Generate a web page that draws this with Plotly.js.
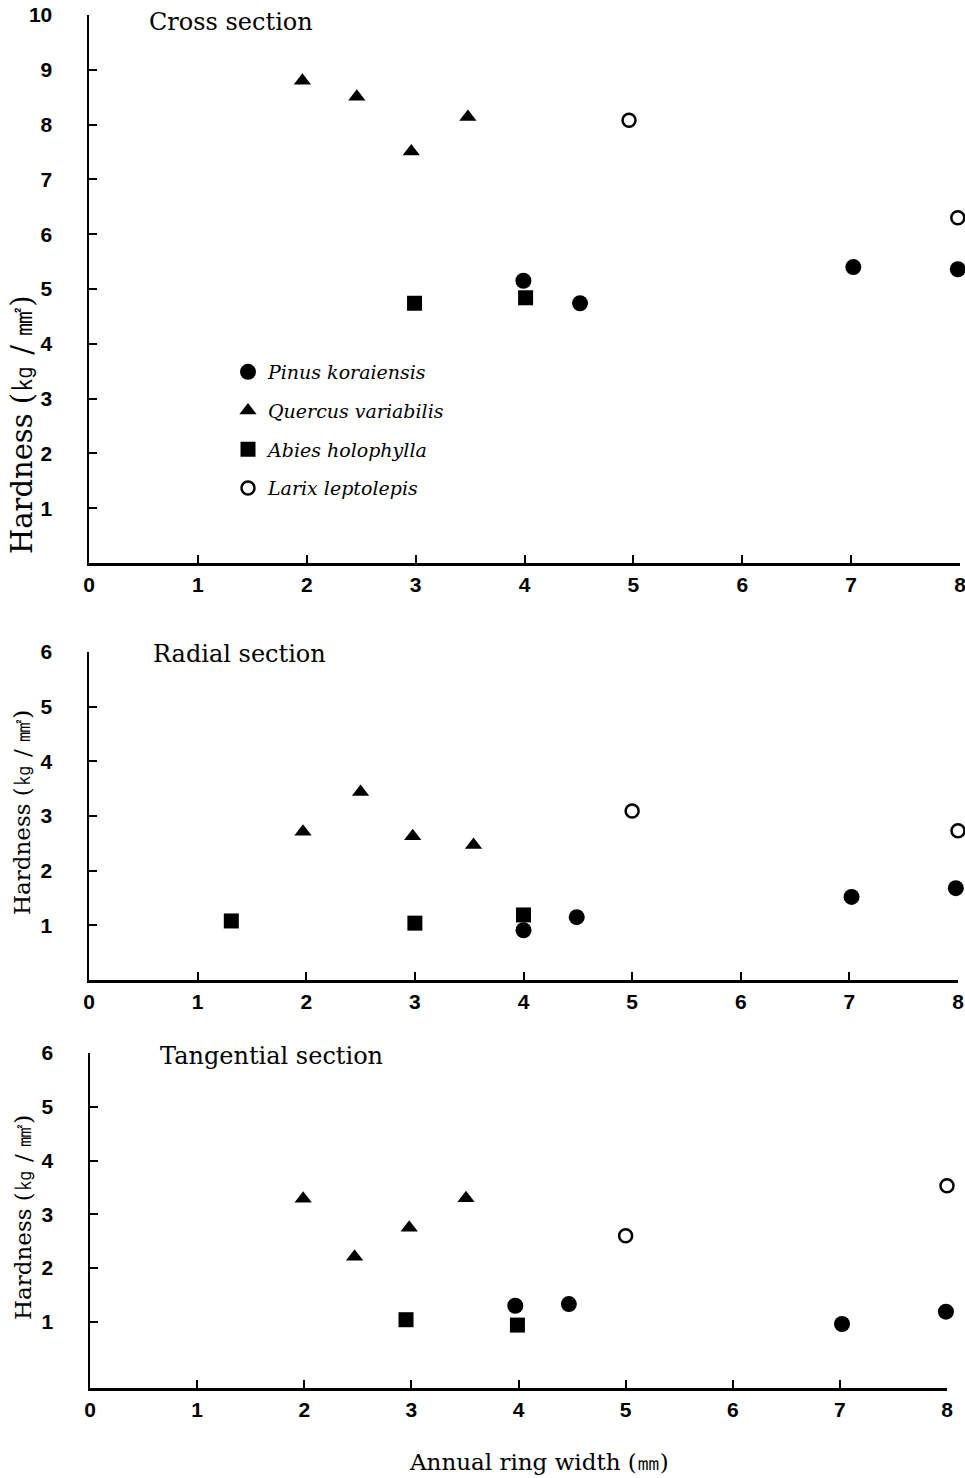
<!DOCTYPE html>
<html>
<head>
<meta charset="utf-8">
<script src="https://cdn.plot.ly/plotly-3.0.1.min.js"></script>
<style>html,body{margin:0;padding:0;background:#fff;}#chart{width:965px;height:1478px;}</style>
</head>
<body>
<div id="chart"></div>
<script>
// ---- Data ----
const species = ["Pinus koraiensis", "Quercus variabilis", "Abies holophylla", "Larix leptolepis"];
const sectionTitles = ["Cross section", "Radial section", "Tangential section"];
const xTickVals = [0, 1, 2, 3, 4, 5, 6, 7, 8];
const yTickVals1 = [1, 2, 3, 4, 5, 6, 7, 8, 9, 10];
const yTickVals23 = [1, 2, 3, 4, 5, 6];

// Cross section
const crossPinusX = [3.99, 4.51, 7.02, 7.98];
const crossPinusY = [5.15, 4.74, 5.40, 5.36];
const crossQuercusX = [1.96, 2.46, 2.96, 3.48];
const crossQuercusY = [8.80, 8.51, 7.51, 8.14];
const crossAbiesX = [2.99, 4.01];
const crossAbiesY = [4.74, 4.84];
const crossLarixX = [4.96, 7.98];
const crossLarixY = [8.08, 6.30];

// Radial section
const radialPinusX = [4.00, 4.49, 7.02, 7.98];
const radialPinusY = [0.91, 1.15, 1.52, 1.68];
const radialQuercusX = [1.97, 2.50, 2.98, 3.54];
const radialQuercusY = [2.71, 3.44, 2.63, 2.47];
const radialAbiesX = [1.31, 3.00, 4.00];
const radialAbiesY = [1.08, 1.04, 1.19];
const radialLarixX = [5.00, 8.00];
const radialLarixY = [3.09, 2.73];

// Tangential section
const tangPinusX = [3.97, 4.47, 7.02, 7.99];
const tangPinusY = [1.30, 1.33, 0.96, 1.19];
const tangQuercusX = [1.99, 2.47, 2.98, 3.51];
const tangQuercusY = [3.29, 2.21, 2.75, 3.30];
const tangAbiesX = [2.95, 3.99];
const tangAbiesY = [1.04, 0.94];
const tangLarixX = [5.00, 8.00];
const tangLarixY = [2.60, 3.53];

// ---- Styles ----
const markerStyles = [
  {symbol: "circle", size: 16, color: "#000"},
  {symbol: "triangle-up", size: 15, color: "#000"},
  {symbol: "square", size: 15, color: "#000"},
  {symbol: "circle-open", size: 13, color: "#000", line: {color: "#000", width: 2.5}}
];

const panels = [
  {xs: [crossPinusX, crossQuercusX, crossAbiesX, crossLarixX], ys: [crossPinusY, crossQuercusY, crossAbiesY, crossLarixY], xa: "x", ya: "y"},
  {xs: [radialPinusX, radialQuercusX, radialAbiesX, radialLarixX], ys: [radialPinusY, radialQuercusY, radialAbiesY, radialLarixY], xa: "x2", ya: "y2"},
  {xs: [tangPinusX, tangQuercusX, tangAbiesX, tangLarixX], ys: [tangPinusY, tangQuercusY, tangAbiesY, tangLarixY], xa: "x3", ya: "y3"}
];

const traces = [];
panels.forEach((p, pi) => {
  species.forEach((s, si) => {
    traces.push({
      type: "scatter", mode: "markers",
      x: p.xs[si], y: p.ys[si],
      xaxis: p.xa, yaxis: p.ya,
      name: s, legendgroup: s,
      showlegend: pi === 0,
      cliponaxis: false,
      marker: Object.assign({}, markerStyles[si], markerStyles[si].line ? {} : {line: {width: 0}})
    });
  });
});

const tickFont = {family: "Liberation Sans, Arial, sans-serif", size: 21, color: "#000", weight: "bold"};
const serif = "DejaVu Serif, Liberation Serif, serif";

function xAxis(domain, anchor) {
  return {
    domain: domain, anchor: anchor, range: [0, 8],
    tickmode: "array", tickvals: xTickVals, ticktext: xTickVals.map(String),
    ticks: "inside", ticklen: 8, tickwidth: 2, tickcolor: "#000",
    showline: true, linecolor: "#000", linewidth: 2.5,
    showgrid: false, zeroline: false, tickfont: tickFont,
    ticklabelstandoff: 1, ticklabeloverflow: "allow", fixedrange: true
  };
}
function yAxis(domain, anchor, range, vals) {
  return {
    domain: domain, anchor: anchor, range: range,
    tickmode: "array", tickvals: vals, ticktext: vals.map(String),
    ticks: "inside", ticklen: 8, tickwidth: 2, tickcolor: "#000",
    showline: true, linecolor: "#000", linewidth: 2.5,
    showgrid: false, zeroline: false, tickfont: tickFont,
    ticklabelstandoff: 30, ticklabeloverflow: "allow", fixedrange: true
  };
}

const W = 965, H = 1478;
const px = v => v / W;
const py = v => 1 - v / H;

const layout = {
  width: W, height: H,
  margin: {l: 0, r: 0, t: 0, b: 0},
  paper_bgcolor: "#fff", plot_bgcolor: "rgba(0,0,0,0)",
  showlegend: true,
  legend: {
    x: px(228), y: py(353), xanchor: "left", yanchor: "top",
    bgcolor: "rgba(0,0,0,0)", borderwidth: 0,
    traceorder: "grouped", tracegroupgap: 11,
    font: {family: serif, size: 19, color: "#000", style: "italic"}
  },
  xaxis: xAxis([px(89), px(960)], "y"),
  yaxis: yAxis([py(563), py(15)], "x", [0, 10], yTickVals1),
  xaxis2: xAxis([px(89), px(958)], "y2"),
  yaxis2: yAxis([py(980), py(652)], "x2", [0, 6], yTickVals23),
  xaxis3: xAxis([px(90), px(947)], "y3"),
  yaxis3: yAxis([py(1388), py(1053)], "x3", [-0.23, 6], yTickVals23),
  annotations: [
    {text: sectionTitles[0], x: px(147), y: py(22), xref: "paper", yref: "paper", xanchor: "left", yanchor: "middle", showarrow: false, font: {family: serif, size: 24, color: "#000"}},
    {text: sectionTitles[1], x: px(151), y: py(654), xref: "paper", yref: "paper", xanchor: "left", yanchor: "middle", showarrow: false, font: {family: serif, size: 24, color: "#000"}},
    {text: sectionTitles[2], x: px(158), y: py(1056), xref: "paper", yref: "paper", xanchor: "left", yanchor: "middle", showarrow: false, font: {family: serif, size: 24, color: "#000"}},
    {text: "Hardness (㎏ / ㎟)", x: px(22), y: py(425), xref: "paper", yref: "paper", xanchor: "center", yanchor: "middle", textangle: -90, showarrow: false, font: {family: serif, size: 29, color: "#000"}},
    {text: "Hardness (㎏ / ㎟)", x: px(22), y: py(813), xref: "paper", yref: "paper", xanchor: "center", yanchor: "middle", textangle: -90, showarrow: false, font: {family: serif, size: 23, color: "#000"}},
    {text: "Hardness (㎏ / ㎟)", x: px(23), y: py(1218), xref: "paper", yref: "paper", xanchor: "center", yanchor: "middle", textangle: -90, showarrow: false, font: {family: serif, size: 23, color: "#000"}},
    {text: "Annual ring width (㎜)", x: px(539), y: py(1462), xref: "paper", yref: "paper", xanchor: "center", yanchor: "middle", showarrow: false, font: {family: serif, size: 23, color: "#000"}}
  ]
};

Plotly.newPlot("chart", traces, layout, {displayModeBar: false, staticPlot: true});
</script>
</body>
</html>
